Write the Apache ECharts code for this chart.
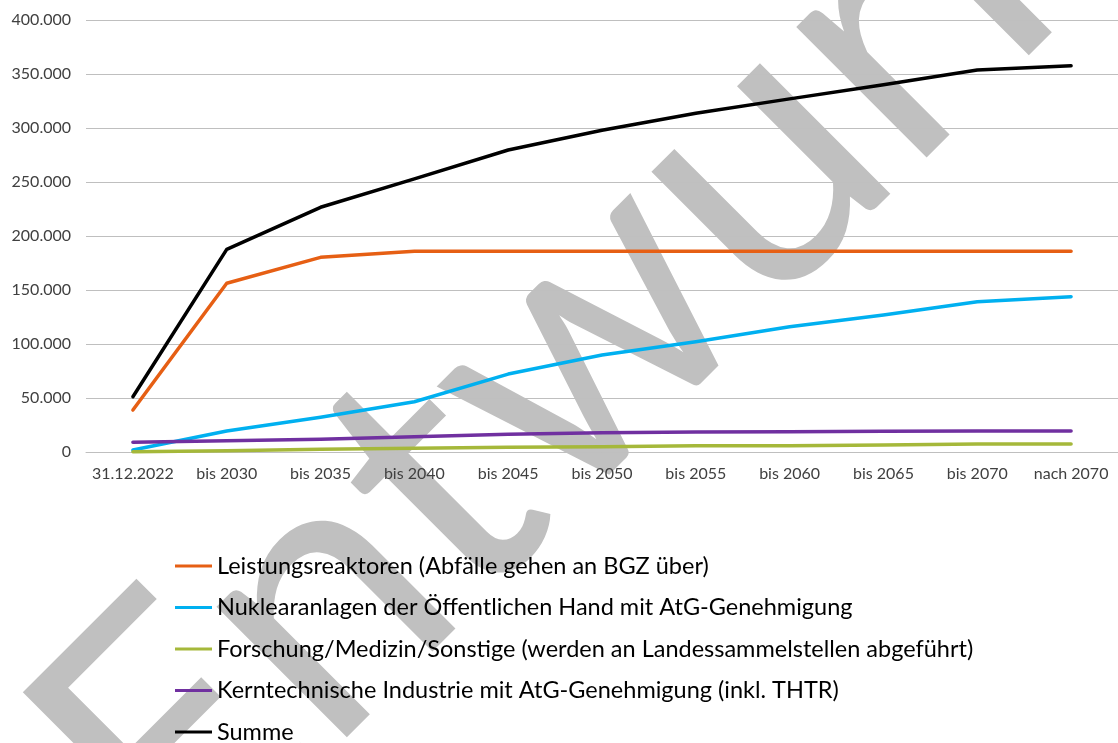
<!DOCTYPE html>
<html>
<head>
<meta charset="utf-8">
<script src="https://cdn.jsdelivr.net/npm/echarts@6/dist/echarts.min.js"></script>
<style>
html,body{margin:0;padding:0;background:#fff;}
#chart{width:1118px;height:743px;}
</style>
</head>
<body>
<div id="chart"></div>
<script>
var categories = ['31.12.2022','bis 2030','bis 2035','bis 2040','bis 2045','bis 2050','bis 2055','bis 2060','bis 2065','bis 2070','nach 2070'];
var leistungsreaktoren = [39100,156400,180400,186000,186000,186000,186000,186000,186000,186000,186000];
var nuklearanlagen = [2100,19700,32400,46800,72400,90000,102300,116200,127000,139400,144000];
var forschung = [600,1500,2800,3700,4600,5200,6100,6100,6800,7700,7700];
var kerntechnik = [9300,10700,12000,14400,16600,18200,18800,19100,19400,19700,19700];
var summe = [51400,187800,226700,253000,279700,298000,313700,327000,340000,353700,357700];
var seriesNames = [
  'Leistungsreaktoren (Abfälle gehen an BGZ über)',
  'Nuklearanlagen der Öffentlichen Hand mit AtG-Genehmigung',
  'Forschung/Medizin/Sonstige (werden an Landessammelstellen abgeführt)',
  'Kerntechnische Industrie mit AtG-Genehmigung (inkl. THTR)',
  'Summe'
];
var seriesColors = ['#E65F14','#00B0F0','#A5B83A','#7030A0','#000000'];
var seriesData = [leistungsreaktoren, nuklearanlagen, forschung, kerntechnik, summe];
var watermarkText = 'Entwurf';

function fmt(v){
  var s = String(Math.round(v));
  return s.replace(/\B(?=(\d{3})+(?!\d))/g, '.');
}

var chart = echarts.init(document.getElementById('chart'));
var series = seriesData.map(function(d,i){
  return {
    name: seriesNames[i],
    type: 'line',
    data: d,
    showSymbol: false,
    symbol: 'none',
    smooth: false,
    z: 3,
    lineStyle: {color: seriesColors[i], width: 3.5, cap: 'round', join: 'round'},
    itemStyle: {color: seriesColors[i]},
    emphasis: {disabled: true}
  };
});
var legendRowCenters = [566, 607.5, 649, 690.5, 732];
var legends = seriesNames.map(function(n,i){
  return {
    orient: 'vertical',
    left: 175,
    top: legendRowCenters[i] - 12,
    padding: 0,
    itemWidth: 37,
    itemHeight: 3,
    icon: 'rect',
    selectedMode: false,
    textStyle: {color: '#000', fontSize: 23.5, lineHeight: 24, fontFamily: 'Lato'},
    data: [n]
  };
});
chart.setOption({
  animation: false,
  textStyle: {fontFamily: 'Lato'},
  grid: {left: 86, right: 0, top: 20, bottom: 290.7, containLabel: false},
  xAxis: {
    type: 'category',
    data: categories,
    boundaryGap: true,
    axisLine: {show: true, lineStyle: {color: '#bfbfbf', width: 1}},
    axisTick: {show: false},
    axisLabel: {color: '#404040', fontSize: 16, margin: 14, fontFamily: 'Lato', interval: 0}
  },
  yAxis: {
    type: 'value',
    min: 0, max: 400000, interval: 50000,
    axisLine: {show: false},
    axisTick: {show: false},
    splitLine: {lineStyle: {color: '#bfbfbf', width: 1}},
    axisLabel: {color: '#404040', fontSize: 16, margin: 15, fontFamily: 'Lato', formatter: fmt}
  },
  legend: legends,
  graphic: {
    elements: [{
      type: 'text',
      z: -100,
      silent: true,
      x: 555,
      y: 363,
      rotation: 45 * Math.PI / 180,
      style: {
        text: watermarkText,
        fontSize: 364,
        fontFamily: 'Lato',
        fill: '#c0c0c0',
        textAlign: 'center',
        textVerticalAlign: 'middle'
      }
    }]
  },
  series: series
});
</script>
</body>
</html>
